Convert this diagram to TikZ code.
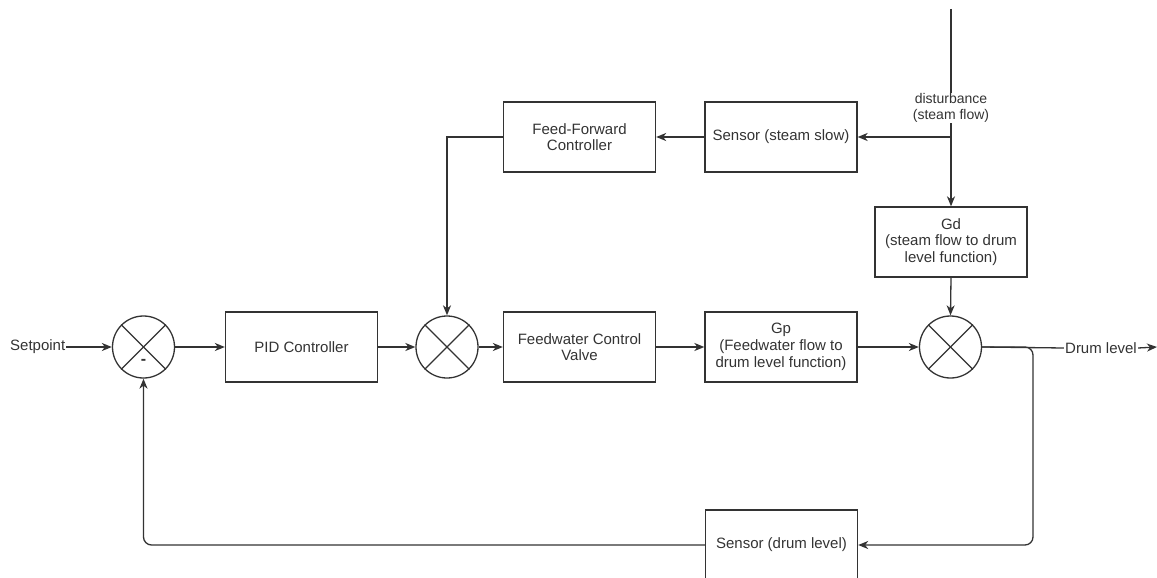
\documentclass[tikz,border=0pt]{standalone}
\usepackage{fontspec}
\setmainfont{Liberation Sans}
\usetikzlibrary{arrows.meta,calc}
\definecolor{ln}{HTML}{333333}
\begin{document}
\begin{tikzpicture}[x=1pt,y=-1pt,
  cn/.style={line width=1.3pt,draw=ln},
  blk/.style={draw=ln,line width=1.3pt,rectangle,minimum width=152pt,minimum height=70pt,align=center,inner sep=2pt,font=\fontsize{15}{16.7}\selectfont,text=ln},
  sumj/.style={draw=ln,line width=1.3pt,circle,minimum size=62pt,inner sep=0pt},
  lbl/.style={font=\fontsize{15}{16.7}\selectfont,text=ln,inner sep=1pt},
  arr/.style={cn,-{Stealth[length=10pt,width=8pt,inset=3pt]}},
]
\useasboundingbox (0,0) rectangle (1157,578);
% summing junctions
\node[sumj] (s1) at (143.5,347) {};
\node[sumj] (s2) at (447,347) {};
\node[sumj] (s3) at (950.5,347) {};
\foreach \s in {s1,s2,s3}{
  \draw[cn] (\s.45) -- (\s.225);
  \draw[cn] (\s.135) -- (\s.315);
}
\node[font=\bfseries\fontsize{16}{16}\selectfont,text=ln,inner sep=0pt] (minus) at (143.5,362) {-};
% blocks
\node[blk] (pid) at (301.5,347) {PID Controller};
\node[blk] (fcv) at (579.5,347) {Feedwater Control\\Valve};
\node[blk] (gp) at (781,347) {Gp\\(Feedwater flow to\\drum level function)};
\node[blk] (ff) at (579.5,137) {Feed-Forward\\Controller};
\node[blk] (ss) at (781,137) {Sensor (steam slow)};
\node[blk] (gd) at (951,242) {Gd\\(steam flow to drum\\level function)};
\node[blk] (sd) at (781.5,545) {Sensor (drum level)};
% labels
\node[lbl,anchor=west] (sp) at (9,347) {Setpoint};
\node[lbl] (dl) at (1101,348) {Drum level};
\node[font=\fontsize{14}{15.5}\selectfont,text=ln,align=center,inner sep=1pt] (dist) at (951,108) {disturbance\\(steam flow)};
\coordinate (top) at (951,9);
\coordinate (br) at (951,137);
\coordinate (out) at (1157,347);
\coordinate (fbr) at (1033,347);
% connectors
\draw[arr] (sp.east) -- (s1.west);
\draw[arr] (s1.east) -- (pid.west);
\draw[arr] (pid.east) -- (s2.west);
\draw[arr] (s2.east) -- (fcv.west);
\draw[arr] (fcv.east) -- (gp.west);
\draw[arr] (gp.east) -- (s3.west);
\draw[cn] (s3.east) -- (dl.west);
\draw[arr] (dl.east) -- (out);
\draw[cn] (top) -- (dist.north);
\draw[arr] (dist.south) -- (gd.north);
\draw[arr] (br) -- (ss.east);
\draw[arr] (ss.west) -- (ff.east);
\draw[arr] (ff.west) -| (s2.north);
\draw[arr] (gd.south) -- (s3.north);
\draw[arr,rounded corners=8pt] (s3.east) -- (fbr) -- (fbr |- sd.east) -- (sd.east);
\draw[arr,rounded corners=8pt] (sd.west) -| (s1.south);
\end{tikzpicture}
\end{document}
